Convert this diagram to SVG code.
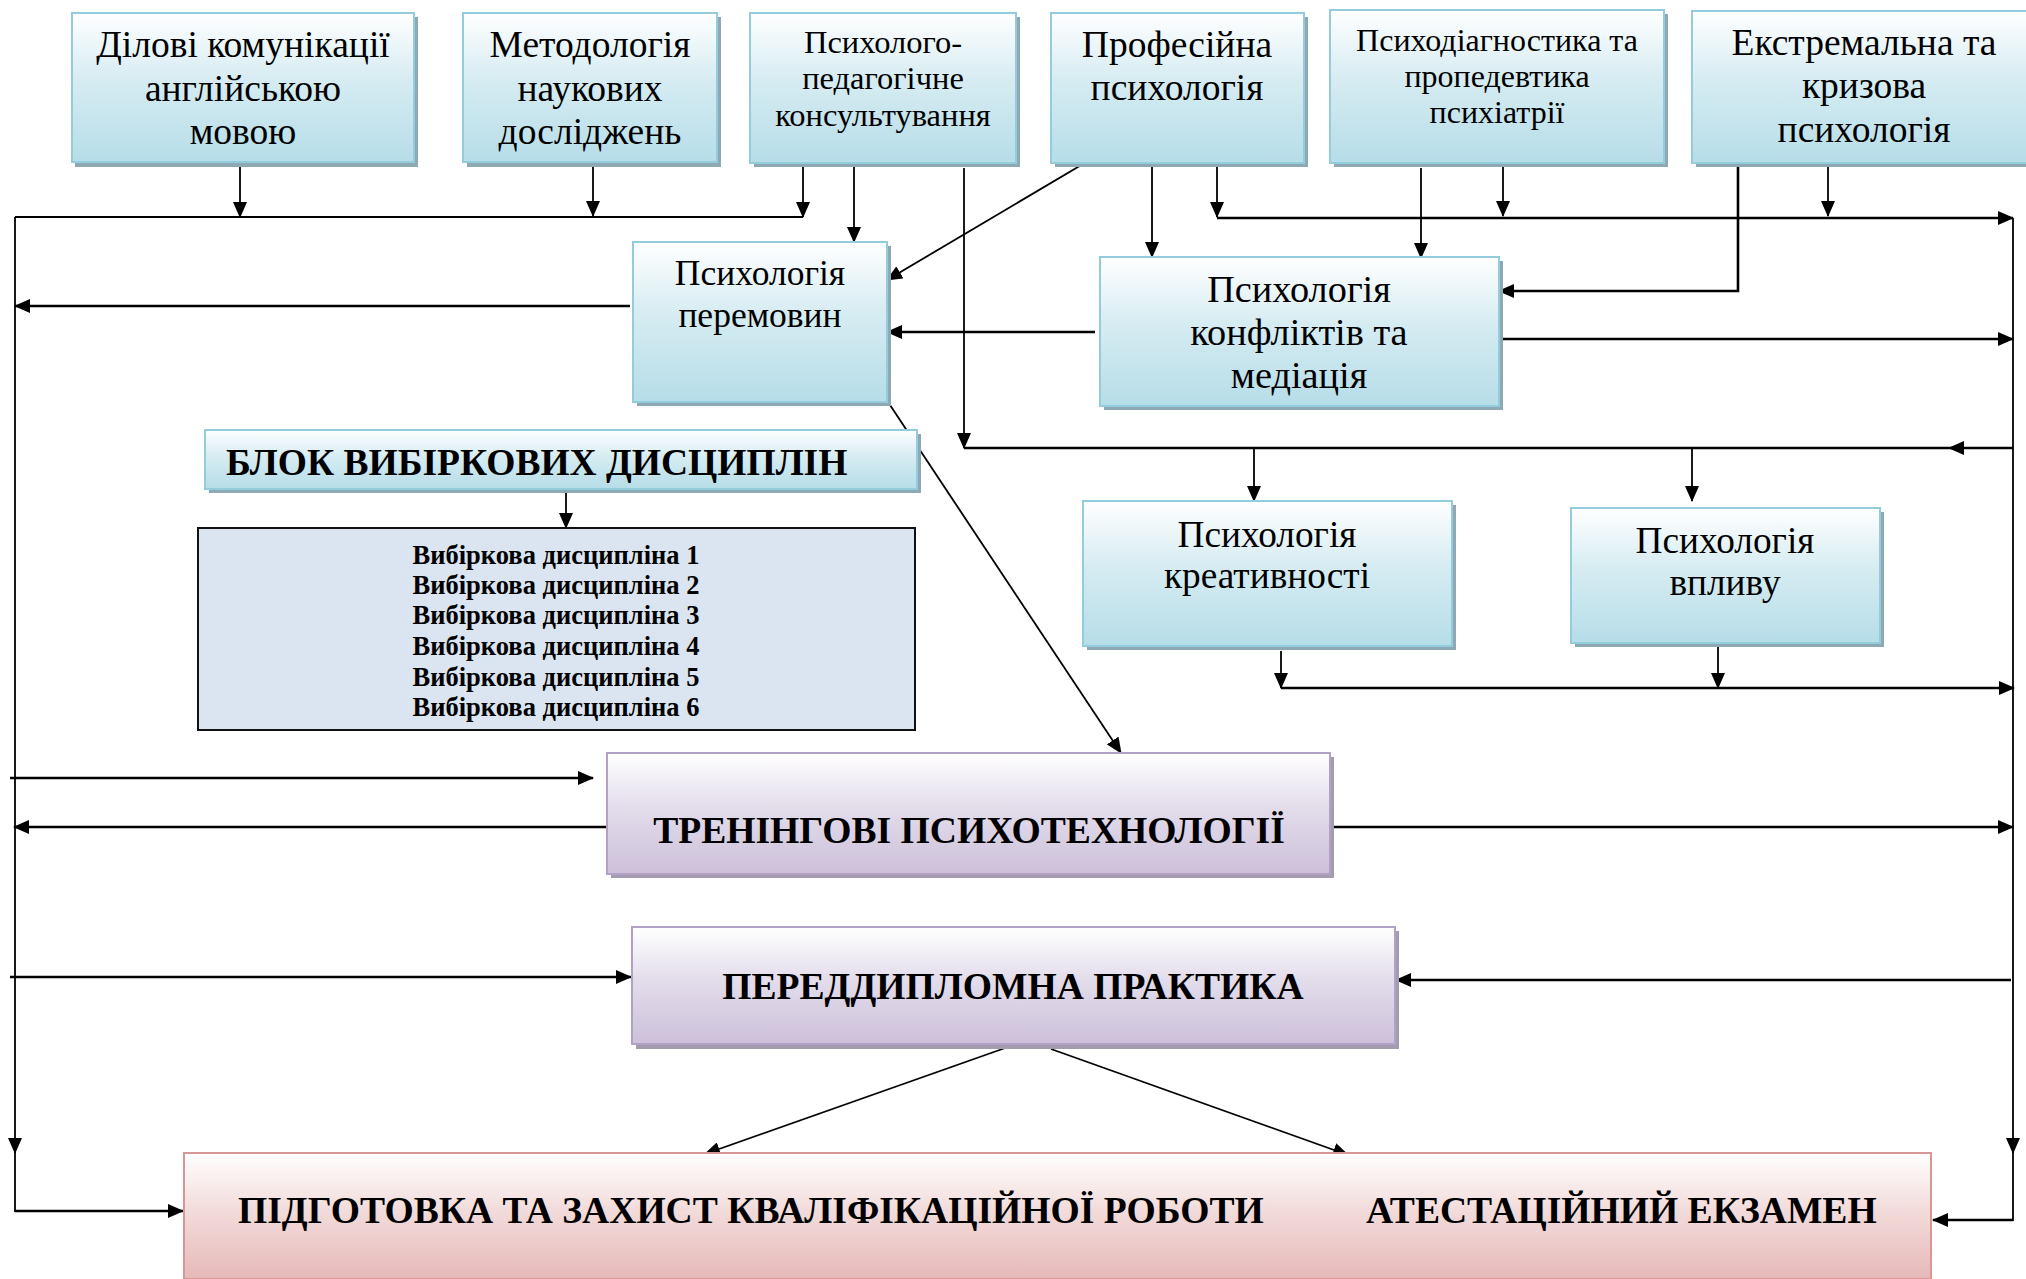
<svg xmlns="http://www.w3.org/2000/svg" width="2026" height="1279" viewBox="0 0 2026 1279">
<style>
  .t { font-family: "Liberation Serif", "Times New Roman", serif; fill: #000; text-anchor: middle; }
  .b { font-weight: bold; }
  .blue { fill: url(#gBlue); stroke: #93cddd; stroke-width: 2; }
  .purple { fill: url(#gPurple); stroke: #b2a1c7; stroke-width: 2; }
  .pink { fill: url(#gPink); stroke: #d99694; stroke-width: 2; }
  .shB { fill: #8fa9b4; }
  .shP { fill: #a39cae; }
  .c { fill: none; stroke: #000; stroke-width: 1.8; }
  .k { fill: none; stroke: #000; stroke-width: 2.6; }
  .a { marker-end: url(#arr); }
</style>
<defs>
  <linearGradient id="gBlue" x1="0" y1="0" x2="0" y2="1">
    <stop offset="0" stop-color="#ffffff"/>
    <stop offset="0.45" stop-color="#d6ecf2"/>
    <stop offset="1" stop-color="#b6dde8"/>
  </linearGradient>
  <linearGradient id="gPurple" x1="0" y1="0" x2="0" y2="1">
    <stop offset="0" stop-color="#ffffff"/>
    <stop offset="0.45" stop-color="#e3ddeb"/>
    <stop offset="1" stop-color="#ccc0da"/>
  </linearGradient>
  <linearGradient id="gPink" x1="0" y1="0" x2="0" y2="1">
    <stop offset="0" stop-color="#ffffff"/>
    <stop offset="0.45" stop-color="#f2dcdb"/>
    <stop offset="1" stop-color="#e6b9b8"/>
  </linearGradient>
  <marker id="arr" markerUnits="userSpaceOnUse" markerWidth="16" markerHeight="14" viewBox="0 0 16 14" refX="15" refY="7" orient="auto">
    <path d="M0,0 L16,7 L0,14 z" fill="#000"/>
  </marker>
</defs>

<g id="connectors">
  <!-- top row to bus line at y=217 -->
  <line class="c a" x1="240" y1="166" x2="240" y2="217"/>
  <line class="c a" x1="593" y1="166" x2="593" y2="216"/>
  <line class="c a" x1="803" y1="166" x2="803" y2="217"/>
  <line class="c" x1="15" y1="217" x2="803" y2="217"/>
  <!-- psych-ped consulting -->
  <line class="c a" x1="854" y1="166" x2="854" y2="242"/>
  <line class="c a" x1="964" y1="168" x2="964" y2="448"/>
  <line class="k a" x1="2013" y1="448" x2="1949" y2="448"/>
  <line class="k" x1="1949" y1="448" x2="964" y2="448"/>
  <line class="c a" x1="1254" y1="448" x2="1254" y2="501"/>
  <line class="c a" x1="1692" y1="448" x2="1692" y2="501"/>
  <!-- professional psychology -->
  <line class="c a" x1="1083" y1="164" x2="887" y2="280"/>
  <line class="c a" x1="1152" y1="166" x2="1152" y2="257"/>
  <line class="c a" x1="1217" y1="166" x2="1217" y2="217"/>
  <line class="k a" x1="1217" y1="218" x2="2013" y2="218"/>
  <!-- psychodiagnostics -->
  <line class="c a" x1="1421" y1="168" x2="1421" y2="258"/>
  <line class="c a" x1="1503" y1="164" x2="1503" y2="216"/>
  <!-- extreme -->
  <polyline class="k a" points="1738,164 1738,291 1499,291"/>
  <line class="c a" x1="1828" y1="166" x2="1828" y2="216"/>
  <!-- conflicts -->
  <line class="k a" x1="1095" y1="332" x2="887" y2="332"/>
  <line class="k a" x1="1503" y1="339" x2="2013" y2="339"/>
  <!-- negotiations -->
  <line class="k a" x1="630" y1="306" x2="15" y2="306"/>
  <line class="c a" x1="888" y1="402" x2="1121" y2="753"/>
  <!-- electives -->
  <line class="c a" x1="566" y1="493" x2="566" y2="528"/>
  <!-- creativity / influence -->
  <line class="c a" x1="1281" y1="651" x2="1281" y2="688"/>
  <line class="c a" x1="1718" y1="646" x2="1718" y2="688"/>
  <line class="k a" x1="1281" y1="688" x2="2014" y2="688"/>
  <!-- trainings -->
  <line class="k a" x1="10" y1="778" x2="593" y2="778"/>
  <line class="k a" x1="607" y1="827" x2="14" y2="827"/>
  <line class="k a" x1="1331" y1="827" x2="2013" y2="827"/>
  <!-- pre-diploma -->
  <line class="k a" x1="10" y1="977" x2="631" y2="977"/>
  <line class="k a" x1="2011" y1="980" x2="1396" y2="980"/>
  <line class="c a" x1="1008" y1="1047" x2="705" y2="1154"/>
  <line class="c a" x1="1051" y1="1049" x2="1348" y2="1155"/>
  <!-- left vertical -->
  <line class="c a" x1="15" y1="217" x2="15" y2="1153"/>
  <line class="c" x1="15" y1="1150" x2="15" y2="1212"/>
  <line class="k a" x1="15" y1="1211" x2="183" y2="1211"/>
  <!-- right vertical -->
  <line class="c a" x1="2013" y1="218" x2="2013" y2="1153"/>
  <line class="c" x1="2013" y1="1150" x2="2013" y2="1221"/>
  <line class="k a" x1="2013" y1="1220" x2="1933" y2="1220"/>
</g>

<g id="n-dilovi">
  <rect class="shB" x="75" y="17" width="343" height="150"/>
  <rect class="blue" x="72" y="13" width="342" height="149"/>
  <text class="t" font-size="37.5" x="243" y="57">Ділові комунікації</text>
  <text class="t" font-size="37.5" x="243" y="101">англійською</text>
  <text class="t" font-size="37.5" x="243" y="144">мовою</text>
</g>
<g id="n-metod">
  <rect class="shB" x="467" y="17" width="254" height="150"/>
  <rect class="blue" x="463" y="13" width="254" height="149"/>
  <text class="t" font-size="37.5" x="590" y="57">Методологія</text>
  <text class="t" font-size="37.5" x="590" y="101">наукових</text>
  <text class="t" font-size="37.5" x="590" y="144">досліджень</text>
</g>
<g id="n-konsult">
  <rect class="shB" x="754" y="17" width="266" height="150"/>
  <rect class="blue" x="750" y="13" width="266" height="150"/>
  <text class="t" font-size="32.5" x="883" y="53">Психолого-</text>
  <text class="t" font-size="32.5" x="883" y="89">педагогічне</text>
  <text class="t" font-size="32.5" x="883" y="126">консультування</text>
</g>
<g id="n-profesiina">
  <rect class="shB" x="1055" y="17" width="253" height="150"/>
  <rect class="blue" x="1051" y="13" width="253" height="150"/>
  <text class="t" font-size="37.5" x="1177" y="57">Професійна</text>
  <text class="t" font-size="37.5" x="1177" y="100">психологія</text>
</g>
<g id="n-psykhodiag">
  <rect class="shB" x="1334" y="14" width="334" height="153"/>
  <rect class="blue" x="1330" y="10" width="334" height="153"/>
  <text class="t" font-size="32" x="1497" y="51">Психодіагностика та</text>
  <text class="t" font-size="32" x="1497" y="87">пропедевтика</text>
  <text class="t" font-size="32" x="1497" y="123">психіатрії</text>
</g>
<g id="n-ekstremalna">
  <rect class="shB" x="1696" y="15" width="344" height="152"/>
  <rect class="blue" x="1692" y="11" width="344" height="152"/>
  <text class="t" font-size="37.5" x="1864" y="55">Екстремальна та</text>
  <text class="t" font-size="37.5" x="1864" y="98">кризова</text>
  <text class="t" font-size="37.5" x="1864" y="142">психологія</text>
</g>
<g id="n-peremovyny">
  <rect class="shB" x="637" y="246" width="254" height="160"/>
  <rect class="blue" x="633" y="242" width="254" height="160"/>
  <text class="t" font-size="35.5" x="760" y="285">Психологія</text>
  <text class="t" font-size="35.5" x="760" y="327">перемовин</text>
</g>
<g id="n-konflikty">
  <rect class="shB" x="1104" y="261" width="399" height="149"/>
  <rect class="blue" x="1100" y="257" width="399" height="149"/>
  <text class="t" font-size="38.3" x="1299" y="302">Психологія</text>
  <text class="t" font-size="38.3" x="1299" y="345">конфліктів та</text>
  <text class="t" font-size="38.3" x="1299" y="388">медіація</text>
</g>
<g id="n-blok">
  <rect class="shB" x="209" y="434" width="712" height="59"/>
  <rect class="blue" x="205" y="430" width="712" height="59"/>
  <text class="t b" font-size="37.5" x="226" y="475" style="text-anchor:start">БЛОК ВИБІРКОВИХ ДИСЦИПЛІН</text>
</g>
<g id="n-vybirkovi">
  <rect x="198" y="528" width="717" height="202" fill="#dbe5f1" stroke="#111" stroke-width="2"/>
  <text class="t b" font-size="26.5" x="556" y="564">Вибіркова дисципліна 1</text>
  <text class="t b" font-size="26.5" x="556" y="594">Вибіркова дисципліна 2</text>
  <text class="t b" font-size="26.5" x="556" y="624">Вибіркова дисципліна 3</text>
  <text class="t b" font-size="26.5" x="556" y="655">Вибіркова дисципліна 4</text>
  <text class="t b" font-size="26.5" x="556" y="686">Вибіркова дисципліна 5</text>
  <text class="t b" font-size="26.5" x="556" y="716">Вибіркова дисципліна 6</text>
</g>
<g id="n-kreatyvnist">
  <rect class="shB" x="1087" y="505" width="369" height="145"/>
  <rect class="blue" x="1083" y="501" width="369" height="145"/>
  <text class="t" font-size="37.3" x="1267" y="547">Психологія</text>
  <text class="t" font-size="37.3" x="1267" y="588">креативності</text>
</g>
<g id="n-vplyv">
  <rect class="shB" x="1575" y="512" width="309" height="135"/>
  <rect class="blue" x="1571" y="508" width="309" height="135"/>
  <text class="t" font-size="37.3" x="1725" y="553">Психологія</text>
  <text class="t" font-size="37.3" x="1725" y="595">впливу</text>
</g>
<g id="n-treningovi">
  <rect class="shP" x="611" y="757" width="723" height="121"/>
  <rect class="purple" x="607" y="753" width="723" height="121"/>
  <text class="t b" font-size="37.6" x="969" y="843">ТРЕНІНГОВІ ПСИХОТЕХНОЛОГІЇ</text>
</g>
<g id="n-praktyka">
  <rect class="shP" x="636" y="931" width="763" height="118"/>
  <rect class="purple" x="632" y="927" width="763" height="117"/>
  <text class="t b" font-size="37.6" x="1013" y="999">ПЕРЕДДИПЛОМНА ПРАКТИКА</text>
</g>
<g id="n-atestatsiia">
  <rect class="pink" x="184" y="1153" width="1747" height="126"/>
  <text class="t b" font-size="37.6" x="238" y="1223" style="text-anchor:start">ПІДГОТОВКА ТА ЗАХИСТ КВАЛІФІКАЦІЙНОЇ РОБОТИ</text>
  <text class="t b" font-size="37.6" x="1366" y="1223" style="text-anchor:start">АТЕСТАЦІЙНИЙ ЕКЗАМЕН</text>
</g>
</svg>
